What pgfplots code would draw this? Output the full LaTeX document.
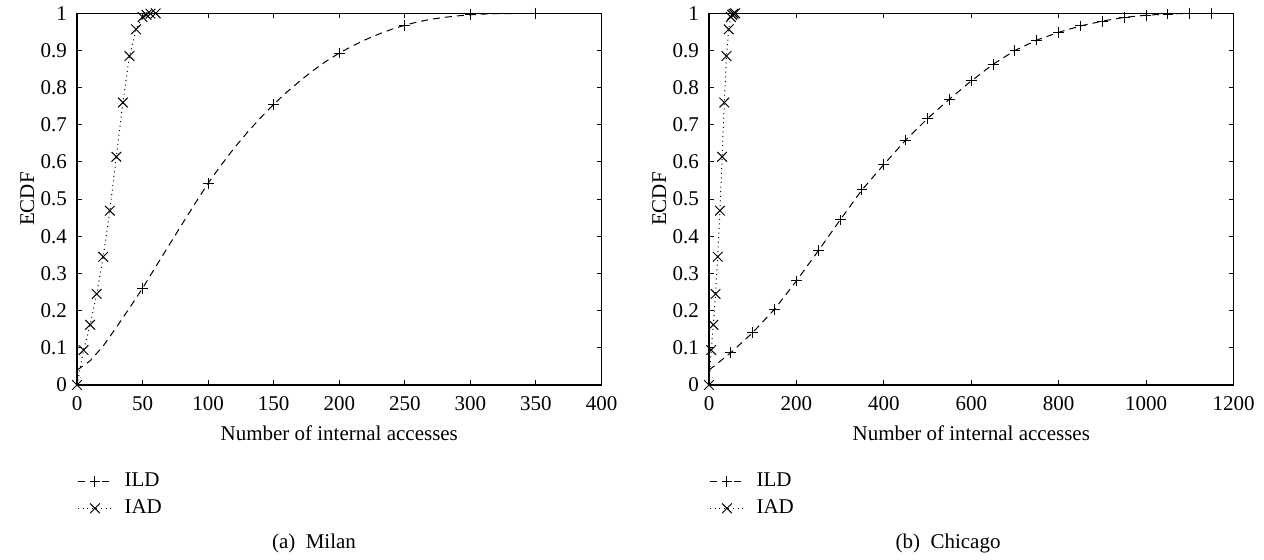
\documentclass[border=0pt]{standalone}
\usepackage{pgfplots}
\pgfplotsset{compat=1.18}
\usepackage{fontspec}
\setmainfont{Liberation Serif}
\pgfplotstableread{
x y
0 0
5 0.094
10 0.162
15 0.245
20 0.345
25 0.469
30 0.614
35 0.760
40 0.885
45 0.957
50 0.990
53 0.996
56 0.999
60 1.000
}\iad
\pgfplotstableread{
x y
0 0.040
10 0.065
20 0.105
30 0.155
40 0.207
50 0.260
60 0.318
70 0.375
80 0.432
90 0.488
100 0.543
110 0.592
120 0.638
130 0.680
140 0.719
150 0.755
160 0.788
170 0.818
180 0.846
190 0.871
200 0.893
210 0.912
220 0.929
230 0.944
240 0.957
250 0.968
260 0.977
270 0.984
280 0.989
290 0.993
300 0.996
310 0.998
320 0.999
330 0.999
340 1.000
350 1.000
360 1.000
370 1.000
380 1.000
390 1.000
400 1.000
}\ildmilan
\pgfplotstableread{
x y
0 0.040
50 0.087
100 0.141
150 0.204
200 0.280
250 0.361
300 0.444
350 0.525
400 0.593
450 0.659
500 0.717
550 0.769
600 0.818
650 0.863
700 0.900
750 0.928
800 0.949
850 0.966
900 0.979
950 0.989
1000 0.995
1050 0.998
1100 1.000
1150 1.000
1200 1.000
}\ildchicago
\begin{document}
\begin{tikzpicture}[font=\fontsize{10.5}{12.6}\selectfont]
\useasboundingbox (0,0) rectangle (632pt,279.5pt);
\pgfplotsset{
  myaxis/.style={
    scale only axis, width=262.25pt, height=185.85pt,
    anchor=south west,
    ymin=0, ymax=1,
    ytick={0,0.1,0.2,0.3,0.4,0.5,0.6,0.7,0.8,0.9,1},
    tick align=inside, major tick length=2.5pt,
    /pgf/number format/assume math mode=true,
    /pgf/number format/1000 sep={},
    axis line style={line width=0.6pt},
    every tick/.style={line width=0.5pt, black},
    xlabel={Number of internal accesses}, ylabel={ECDF},
    xlabel style={at={(axis description cs:0.5,-0.129)}, anchor=center},
    ylabel style={at={(axis description cs:-0.095,0.5)}, anchor=center},
    yticklabel style={xshift=-1.5pt},
    xticklabel style={yshift=-2pt},
    legend style={draw=none, fill=none, inner sep=0pt, at={(axis description cs:0,-0.227)}, anchor=north west,
      nodes={inner sep=1pt, text height=7.5pt, text depth=2pt}, row sep=2pt, column sep=5pt},
    legend cell align=left,
    ildstyle/.style={black, line width=0.5pt, dash pattern=on 3.5pt off 2.5pt, mark=+, mark size=2.7pt, mark options={solid}},
    iadstyle/.style={black, line width=0.5pt, dash pattern=on 0.5pt off 1.8pt, mark=x, mark size=3.4pt, mark options={solid}},
  }}
\begin{axis}[myaxis, at={(38.5pt,87pt)}, xmin=0, xmax=400, xtick={0,50,100,150,200,250,300,350,400}]
\addlegendimage{ildstyle}
\addlegendentry{ILD}
\addlegendimage{iadstyle}
\addlegendentry{IAD}
\addplot[ildstyle, mark indices={6,11,16,21,26,31,36}, forget plot] table[x=x,y=y] {\ildmilan};
\addplot[iadstyle, forget plot] table[x=x,y=y] {\iad};
\end{axis}
\begin{axis}[myaxis, at={(354.5pt,87pt)}, xmin=0, xmax=1200, xtick={0,200,400,600,800,1000,1200}]
\addlegendimage{ildstyle}
\addlegendentry{ILD}
\addlegendimage{iadstyle}
\addlegendentry{IAD}
\addplot[ildstyle, mark indices={2,3,4,5,6,7,8,9,10,11,12,13,14,15,16,17,18,19,20,21,22,23,24}, forget plot] table[x=x,y=y] {\ildchicago};
\addplot[iadstyle, forget plot] table[x=x,y=y] {\iad};
\end{axis}
\node at (157pt,8pt) {(a)\ \ Milan};
\node at (474pt,8pt) {(b)\ \ Chicago};
\end{tikzpicture}
\end{document}
